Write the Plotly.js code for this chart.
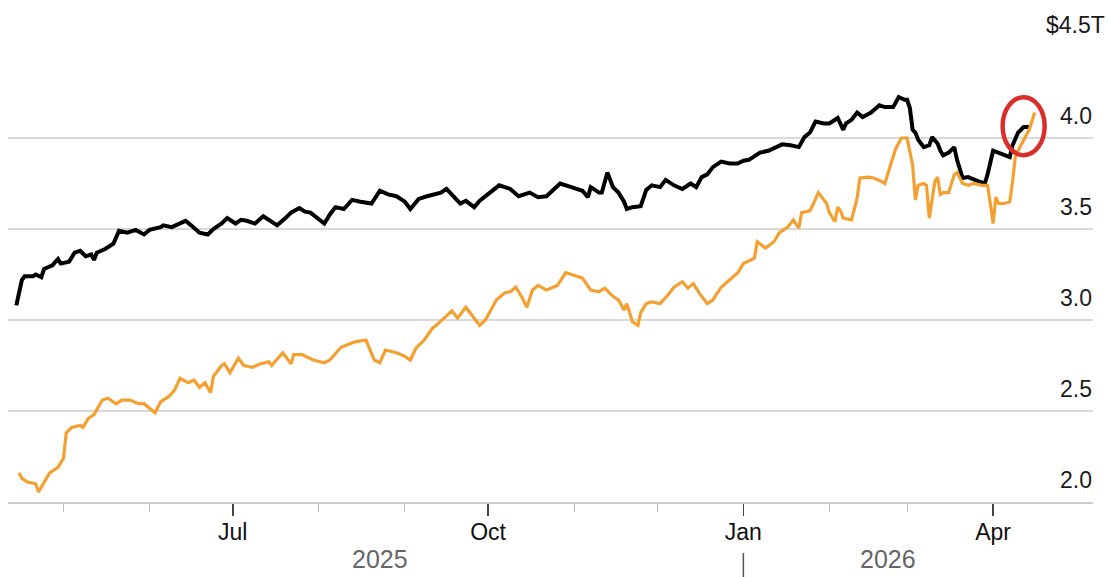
<!DOCTYPE html>
<html>
<head>
<meta charset="utf-8">
<script src="https://cdn.plot.ly/plotly-3.0.1.min.js"></script>
<style>
  html, body { margin: 0; padding: 0; background: #ffffff; }
  #chart { width: 1108px; height: 577px; }
</style>
</head>
<body>
<div id="chart"></div>
<script>
// ---- Data ----
const blackDates = ['2025-04-14','2025-04-16','2025-04-17','2025-04-20','2025-04-21','2025-04-23','2025-04-24','2025-04-27','2025-04-29','2025-04-30',
'2025-05-03','2025-05-05','2025-05-07','2025-05-09','2025-05-11','2025-05-12','2025-05-13','2025-05-16','2025-05-19','2025-05-20',
'2025-05-21','2025-05-24','2025-05-27','2025-05-30','2025-06-01','2025-06-05','2025-06-06','2025-06-09','2025-06-14','2025-06-16',
'2025-06-19','2025-06-22','2025-06-24','2025-06-27','2025-06-29','2025-07-02','2025-07-04','2025-07-06','2025-07-09','2025-07-12',
'2025-07-14','2025-07-17','2025-07-20','2025-07-22','2025-07-25','2025-07-27','2025-07-29','2025-08-01','2025-08-03','2025-08-05',
'2025-08-07','2025-08-10','2025-08-13','2025-08-16','2025-08-20','2025-08-23','2025-08-26','2025-08-29','2025-09-01','2025-09-03',
'2025-09-06','2025-09-09','2025-09-12','2025-09-14','2025-09-16','2025-09-19','2025-09-21','2025-09-23','2025-09-26','2025-09-28',
'2025-10-01','2025-10-05','2025-10-09','2025-10-12','2025-10-16','2025-10-19','2025-10-22','2025-10-27','2025-10-31','2025-11-04',
'2025-11-06','2025-11-07','2025-11-10','2025-11-11','2025-11-13','2025-11-15','2025-11-17','2025-11-19','2025-11-20','2025-11-22',
'2025-11-25','2025-11-27','2025-11-29','2025-12-02','2025-12-04','2025-12-07','2025-12-10','2025-12-13','2025-12-15','2025-12-17',
'2025-12-19','2025-12-21','2025-12-24','2025-12-27','2025-12-30','2026-01-01','2026-01-03','2026-01-05','2026-01-07','2026-01-10',
'2026-01-12','2026-01-15','2026-01-18','2026-01-21','2026-01-23','2026-01-25','2026-01-27','2026-01-30','2026-02-01','2026-02-04',
'2026-02-06','2026-02-07','2026-02-09','2026-02-11','2026-02-13','2026-02-16','2026-02-19','2026-02-21','2026-02-24','2026-02-26',
'2026-02-28','2026-03-01','2026-03-02','2026-03-03','2026-03-04','2026-03-05','2026-03-07','2026-03-09','2026-03-10','2026-03-12',
'2026-03-13','2026-03-14','2026-03-16','2026-03-18','2026-03-19','2026-03-20','2026-03-21','2026-03-23','2026-03-25','2026-03-27',
'2026-03-29','2026-03-30','2026-04-01','2026-04-03','2026-04-05','2026-04-07','2026-04-08','2026-04-10','2026-04-12','2026-04-14'];
const blackValues = [3.08,3.22,3.24,3.24,3.25,3.235,3.28,3.30,3.335,3.31,
3.32,3.37,3.38,3.35,3.36,3.33,3.37,3.39,3.42,3.45,
3.49,3.48,3.495,3.47,3.495,3.51,3.52,3.51,3.545,3.52,
3.48,3.47,3.50,3.53,3.56,3.53,3.55,3.545,3.53,3.57,
3.55,3.52,3.56,3.59,3.615,3.595,3.59,3.55,3.53,3.58,
3.62,3.61,3.66,3.65,3.64,3.71,3.69,3.68,3.65,3.61,
3.665,3.68,3.69,3.70,3.72,3.67,3.64,3.655,3.62,3.655,
3.69,3.74,3.72,3.68,3.70,3.675,3.68,3.75,3.73,3.71,
3.675,3.73,3.70,3.70,3.81,3.73,3.70,3.65,3.61,3.62,
3.625,3.715,3.74,3.73,3.77,3.74,3.72,3.75,3.73,3.785,
3.80,3.84,3.87,3.86,3.86,3.875,3.88,3.90,3.92,3.93,
3.945,3.965,3.96,3.95,4.005,4.03,4.09,4.08,4.08,4.11,
4.045,4.08,4.10,4.14,4.115,4.14,4.18,4.17,4.17,4.225,
4.21,4.21,4.165,4.045,4.03,3.99,3.95,3.96,4.005,3.97,
3.93,3.905,3.92,3.95,3.88,3.835,3.78,3.785,3.77,3.76,
3.75,3.80,3.93,3.92,3.905,3.895,3.96,4.03,4.06,4.06];

const orangeDates = ['2025-04-15','2025-04-16','2025-04-18','2025-04-21','2025-04-22','2025-04-24','2025-04-26','2025-04-29','2025-05-01','2025-05-02',
'2025-05-04','2025-05-07','2025-05-08','2025-05-10','2025-05-12','2025-05-15','2025-05-17','2025-05-20','2025-05-22','2025-05-25',
'2025-05-28','2025-05-30','2025-06-03','2025-06-05','2025-06-08','2025-06-10','2025-06-12','2025-06-15','2025-06-17','2025-06-19',
'2025-06-21','2025-06-23','2025-06-24','2025-06-27','2025-06-28','2025-06-30','2025-07-03','2025-07-05','2025-07-08','2025-07-11',
'2025-07-14','2025-07-15','2025-07-19','2025-07-22','2025-07-23','2025-07-26','2025-07-30','2025-08-03','2025-08-05','2025-08-09',
'2025-08-12','2025-08-14','2025-08-18','2025-08-21','2025-08-23','2025-08-25','2025-08-29','2025-09-01','2025-09-03','2025-09-05',
'2025-09-08','2025-09-11','2025-09-13','2025-09-16','2025-09-18','2025-09-20','2025-09-23','2025-09-26','2025-09-28','2025-09-30',
'2025-10-04','2025-10-07','2025-10-09','2025-10-11','2025-10-13','2025-10-15','2025-10-17','2025-10-19','2025-10-22','2025-10-26',
'2025-10-29','2025-11-02','2025-11-04','2025-11-07','2025-11-10','2025-11-12','2025-11-15','2025-11-17','2025-11-19','2025-11-20',
'2025-11-22','2025-11-24','2025-11-25','2025-11-27','2025-11-29','2025-12-02','2025-12-05','2025-12-07','2025-12-10','2025-12-12',
'2025-12-14','2025-12-16','2025-12-19','2025-12-21','2025-12-24','2025-12-27','2025-12-30','2026-01-01','2026-01-05','2026-01-06',
'2026-01-09','2026-01-12','2026-01-14','2026-01-17','2026-01-19','2026-01-21','2026-01-22','2026-01-25','2026-01-26','2026-01-28',
'2026-01-31','2026-02-01','2026-02-03','2026-02-04','2026-02-05','2026-02-06','2026-02-09','2026-02-11','2026-02-12','2026-02-15',
'2026-02-17','2026-02-20','2026-02-21','2026-02-23','2026-02-25','2026-02-27','2026-03-01','2026-03-03','2026-03-04','2026-03-05',
'2026-03-07','2026-03-08','2026-03-09','2026-03-11','2026-03-12','2026-03-13','2026-03-14','2026-03-16','2026-03-18','2026-03-19',
'2026-03-21','2026-03-23','2026-03-25','2026-03-28','2026-03-30','2026-03-31','2026-04-01','2026-04-02','2026-04-03','2026-04-05',
'2026-04-07','2026-04-08','2026-04-09','2026-04-11','2026-04-12','2026-04-14','2026-04-16'];
const orangeValues = [2.16,2.13,2.11,2.10,2.055,2.11,2.16,2.19,2.24,2.38,
2.41,2.42,2.41,2.46,2.48,2.56,2.57,2.54,2.56,2.56,
2.54,2.54,2.49,2.55,2.58,2.615,2.68,2.655,2.67,2.63,
2.655,2.60,2.69,2.75,2.76,2.71,2.79,2.75,2.74,2.76,
2.77,2.75,2.82,2.76,2.81,2.81,2.78,2.765,2.78,2.85,
2.87,2.88,2.89,2.78,2.765,2.835,2.82,2.80,2.78,2.845,
2.89,2.955,2.98,3.02,3.05,3.01,3.07,3.01,2.97,3.00,
3.11,3.15,3.155,3.18,3.13,3.07,3.165,3.19,3.165,3.19,
3.26,3.24,3.23,3.165,3.155,3.175,3.13,3.11,3.055,3.09,
2.99,2.97,3.04,3.09,3.10,3.09,3.14,3.18,3.21,3.175,
3.20,3.15,3.09,3.11,3.18,3.22,3.26,3.31,3.34,3.43,
3.395,3.43,3.48,3.51,3.55,3.505,3.59,3.60,3.63,3.70,
3.64,3.59,3.54,3.62,3.60,3.56,3.55,3.67,3.78,3.785,
3.78,3.76,3.75,3.85,3.945,4.00,4.00,3.85,3.66,3.74,
3.75,3.74,3.56,3.76,3.785,3.69,3.70,3.70,3.80,3.81,
3.75,3.74,3.75,3.74,3.74,3.64,3.53,3.675,3.64,3.64,
3.65,3.76,3.895,3.96,3.99,4.045,4.14];

const xTickVals = ['2025-07-01','2025-10-01','2026-01-01','2026-04-01'];
const xTickText = ['Jul','Oct','Jan','Apr'];
const xMinorVals = ['2025-05-01','2025-06-01','2025-08-01','2025-09-01','2025-11-01','2025-12-01','2026-02-01','2026-03-01'];
const yTickVals = [2.0, 2.5, 3.0, 3.5, 4.0, 4.5];
const yTickText = ['2.0','2.5','3.0','3.5','4.0','$4.5T'];
const yearLabels = ['2025','2026'];
const yearPositions = ['2025-08-23','2026-02-22'];

// ---- Chart ----
const sans = 'Liberation Sans, Arial, Helvetica, sans-serif';

const traces = [
  { x: blackDates, y: blackValues, type: 'scatter', mode: 'lines',
    line: { color: '#000000', width: 4 }, hoverinfo: 'skip', showlegend: false },
  { x: orangeDates, y: orangeValues, type: 'scatter', mode: 'lines',
    line: { color: '#f4a031', width: 3.2 }, hoverinfo: 'skip', showlegend: false }
];

const annotations = [];
yTickVals.forEach((v, i) => {
  annotations.push({ xref: 'paper', x: 0.984, xanchor: 'center', yref: 'y', y: v, yanchor: 'middle',
    yshift: 22, text: yTickText[i], showarrow: false,
    font: { family: sans, size: 23, color: '#1a1a1a' } });
});
yearLabels.forEach((t, i) => {
  annotations.push({ xref: 'x', x: yearPositions[i], xanchor: 'center', yref: 'paper', y: -0.125, yanchor: 'middle',
    text: t, showarrow: false, borderpad: 0, font: { family: sans, size: 25, color: '#666666' } });
});

const layout = {
  width: 1108, height: 577,
  margin: { l: 8, r: 15, t: 47, b: 75 },
  paper_bgcolor: '#ffffff', plot_bgcolor: '#ffffff',
  showlegend: false,
  xaxis: {
    type: 'date',
    range: ['2025-04-11', '2026-05-07'],
    tickmode: 'array', tickvals: xTickVals, ticktext: xTickText,
    ticks: 'outside', ticklen: 12, tickwidth: 1.5, tickcolor: '#444444',
    ticklabelstandoff: -4,
    tickfont: { family: sans, size: 23, color: '#111111' },
    showgrid: false, zeroline: false,
    showline: true, linecolor: '#cccccc', linewidth: 2,
    minor: { tickmode: 'array', tickvals: xMinorVals, ticks: 'outside', ticklen: 8, tickwidth: 1, tickcolor: '#bbbbbb', showgrid: false },
    fixedrange: true
  },
  yaxis: {
    range: [2.0, 4.5],
    tickmode: 'array', tickvals: yTickVals,
    showticklabels: false, ticks: '',
    showgrid: true, gridcolor: '#d9d9d9', gridwidth: 1.5,
    zeroline: false, showline: false,
    fixedrange: true
  },
  shapes: [
    { type: 'line', xref: 'x', x0: '2026-01-01', x1: '2026-01-01', yref: 'paper', y0: -0.112, y1: -0.17,
      line: { color: '#555555', width: 1.5 } },
    { type: 'circle', xref: 'x', yref: 'y', xsizemode: 'pixel', ysizemode: 'pixel',
      xanchor: '2026-04-12', yanchor: 4.065, x0: -21, x1: 21, y0: -29, y1: 29,
      line: { color: '#d7302b', width: 4.5 } }
  ],
  annotations: annotations
};

Plotly.newPlot('chart', traces, layout, { displayModeBar: false, staticPlot: true });
</script>
</body>
</html>
